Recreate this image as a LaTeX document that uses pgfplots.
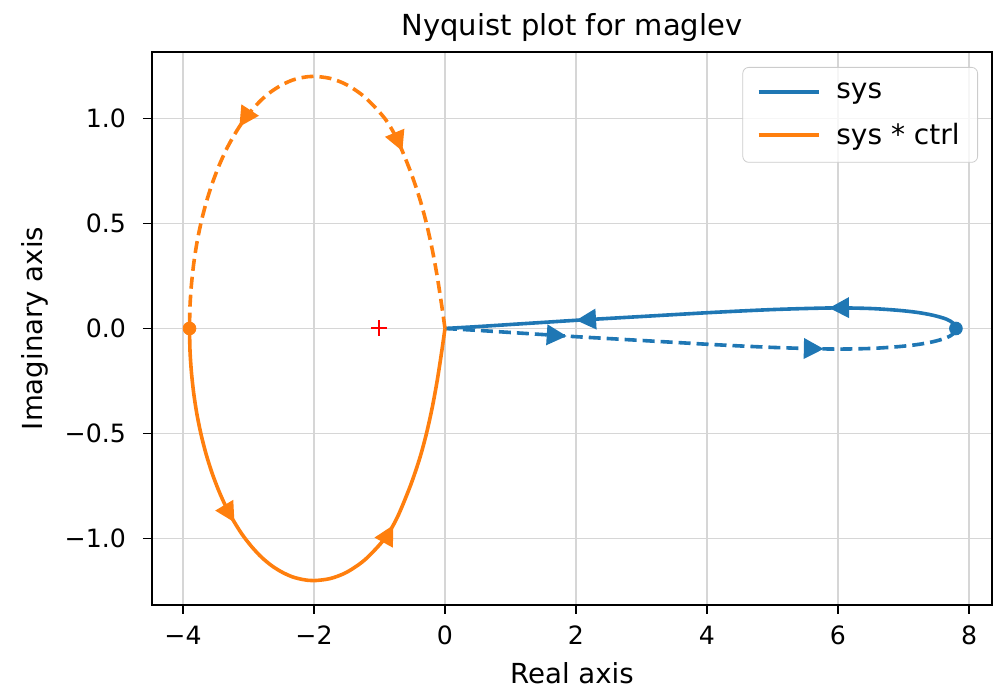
\documentclass[border=0pt]{standalone}
\usepackage{fontspec}
\setmainfont{DejaVu Sans}
\usepackage{pgfplots}
\pgfplotsset{compat=1.18}
\usetikzlibrary{arrows.meta,decorations.markings}
\definecolor{tabblue}{HTML}{1F77B4}
\definecolor{taborange}{HTML}{FF7F0E}
\tikzset{
  twoarrows/.style 2 args={postaction={decorate},
    decoration={markings,
      mark=at position #1 with {\arrow[solid]{Triangle[length=10pt,width=10pt]}},
      mark=at position #2 with {\arrow[solid]{Triangle[length=10pt,width=10pt]}}}},
  revfwd/.style 2 args={postaction={decorate},
    decoration={markings,
      mark=at position #1 with {\arrowreversed[solid]{Triangle[length=10pt,width=10pt]}},
      mark=at position #2 with {\arrow[solid]{Triangle[length=10pt,width=10pt]}}}},
}
\begin{document}
\begin{tikzpicture}
\useasboundingbox (-76pt,-42pt) rectangle (423pt,302.5pt);
\begin{axis}[
  scale only axis, width=420pt, height=276.5pt,
  xmin=-4.473, xmax=8.351, ymin=-1.316, ymax=1.316,
  xtick={-4,-2,0,2,4,6,8}, xticklabels={−4,−2,0,2,4,6,8},
  ytick={-1,-0.5,0,0.5,1}, yticklabels={−1.0,−0.5,0.0,0.5,1.0},
  /pgf/number format/assume math mode=true,
  tick pos=left, tick align=outside, major tick length=4.5pt,
  tick label style={font=\fontsize{12.6}{15}\selectfont},
  xticklabel style={yshift=-2.5pt},
  yticklabel style={xshift=-5pt},
  major tick style={black, line width=0.8pt},
  axis line style={black, line width=0.8pt},
  grid=major, major grid style={black!16, line width=0.8pt},
  title={Nyquist plot for maglev},
  title style={at={(axis description cs:0.5,1.0225)}, anchor=center, font=\fontsize{14.5}{17}\selectfont},
  xlabel={Real axis},
  xlabel style={at={(axis description cs:0.5,-0.124)}, anchor=center, font=\fontsize{13.8}{16}\selectfont},
  ylabel={Imaginary axis},
  ylabel style={at={(axis description cs:-0.139,0.5)}, anchor=center, font=\fontsize{13.8}{16}\selectfont},
  legend image code/.code={\draw[#1] (0pt,0pt) -- (30pt,0pt);},
  legend cell align=left,
  legend style={at={(1,1)}, anchor=north east, xshift=-7pt, yshift=-7.5pt,
    draw=black!20, rounded corners=3pt, fill=white, fill opacity=0.8, text opacity=1,
    font=\fontsize{14}{16}\selectfont, row sep=7pt, inner xsep=7pt, inner ysep=5.5pt,
    /tikz/every odd column/.append style={column sep=6pt}},
]
% sys (blue): omega >= 0, solid
\addplot[tabblue, line width=1.8pt, smooth, forget plot, twoarrows={0.256}{0.746}] coordinates {
 (7.80,0.000) (7.76,0.025) (7.65,0.045) (7.45,0.063) (7.20,0.077) (6.90,0.087)
 (6.50,0.095) (6.00,0.098) (5.50,0.095) (5.00,0.090) (4.50,0.083) (4.00,0.075)
 (3.50,0.066) (3.00,0.057) (2.50,0.048) (2.00,0.039) (1.50,0.029) (1.00,0.019)
 (0.50,0.009) (0.00,0.000)};
% sys (blue): omega <= 0, dashed
\addplot[tabblue, line width=1.8pt, smooth, dash pattern=on 6pt off 3pt, forget plot, twoarrows={0.236}{0.734}] coordinates {
 (0.00,0.000) (0.50,-0.009) (1.00,-0.019) (1.50,-0.029) (2.00,-0.039) (2.50,-0.048)
 (3.00,-0.057) (3.50,-0.066) (4.00,-0.075) (4.50,-0.083) (5.00,-0.090) (5.50,-0.095)
 (6.00,-0.098) (6.50,-0.095) (6.90,-0.087) (7.20,-0.077) (7.45,-0.063) (7.65,-0.045)
 (7.76,-0.025) (7.80,0.000)};
\addplot[tabblue, only marks, mark=*, mark size=3.2pt, forget plot] coordinates {(7.80,0)};
% sys * ctrl (orange): omega >= 0, solid
\addplot[taborange, line width=1.8pt, smooth, forget plot, twoarrows={0.33}{0.665}] coordinates {
 (-3.900,0) (-3.893,-0.105) (-3.871,-0.208) (-3.835,-0.311) (-3.786,-0.410)
 (-3.722,-0.507) (-3.645,-0.600) (-3.556,-0.688) (-3.455,-0.771) (-3.343,-0.849)
 (-3.221,-0.919) (-3.090,-0.983) (-2.950,-1.039) (-2.803,-1.088) (-2.650,-1.128)
 (-2.492,-1.159) (-2.330,-1.182) (-2.166,-1.195) (-2.000,-1.200)
 (-1.750,-1.190) (-1.500,-1.160) (-1.220,-1.100) (-0.920,-1.000) (-0.730,-0.900)
 (-0.530,-0.750) (-0.388,-0.620) (-0.283,-0.500) (-0.194,-0.375) (-0.120,-0.250)
 (-0.055,-0.120) (0,0)};
% sys * ctrl (orange): omega <= 0, dashed
\addplot[taborange, line width=1.8pt, smooth, dash pattern=on 6pt off 3pt, forget plot, revfwd={0.30}{0.655}] coordinates {
 (0,0) (-0.055,0.120) (-0.120,0.250) (-0.194,0.375) (-0.283,0.500) (-0.388,0.620)
 (-0.530,0.750) (-0.730,0.900) (-0.920,1.000) (-1.220,1.100) (-1.500,1.160)
 (-1.750,1.190) (-2.000,1.200) (-2.166,1.195) (-2.330,1.182) (-2.492,1.159)
 (-2.650,1.128) (-2.803,1.088) (-2.950,1.039) (-3.090,0.983) (-3.221,0.919)
 (-3.343,0.849) (-3.455,0.771) (-3.556,0.688) (-3.645,0.600) (-3.722,0.507)
 (-3.786,0.410) (-3.835,0.311) (-3.871,0.208) (-3.893,0.105) (-3.900,0)};
\addplot[taborange, only marks, mark=*, mark size=3.2pt, forget plot] coordinates {(-3.90,0)};
% critical point
\addplot[red, only marks, mark=+, mark size=4pt, line width=1pt, forget plot] coordinates {(-1,0)};
\addlegendimage{tabblue, line width=1.8pt}
\addlegendentry{sys}
\addlegendimage{taborange, line width=1.8pt}
\addlegendentry{sys * ctrl}
\end{axis}
\end{tikzpicture}
\end{document}
